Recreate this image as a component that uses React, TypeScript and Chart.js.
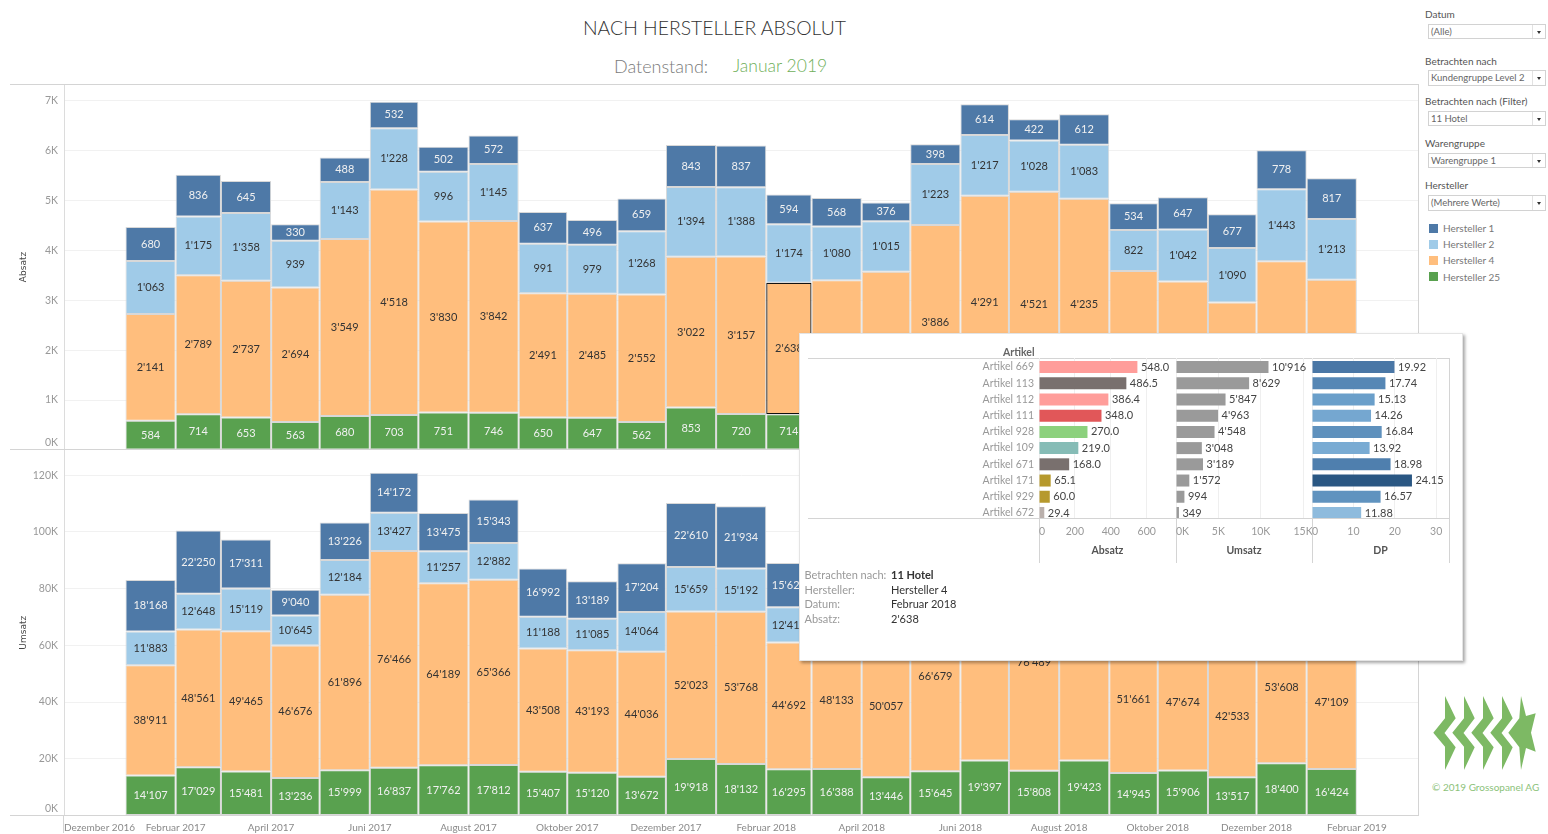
import React, { useEffect, useRef } from "react";
import { Chart, registerables, BarController } from "chart.js";

Chart.register(...registerables);

// ---------- data ----------
const monthYears = [2017,2017,2017,2017,2017,2017,2017,2017,2017,2017,2017,2017,2018,2018,2018,2018,2018,2018,2018,2018,2018,2018,2018,2018,2019];
const monthIndex = [0,1,2,3,4,5,6,7,8,9,10,11,0,1,2,3,4,5,6,7,8,9,10,11,0];

const absatzH25 = [584,714,653,563,680,703,751,746,650,647,562,853,720,714,720,590,623,806,656,798,600,640,545,740,660];
const absatzH4 = [2141,2789,2737,2694,3549,4518,3830,3842,2491,2485,2552,3022,3157,2638,2680,2980,3886,4291,4521,4235,2988,2735,2411,3045,2754];
const absatzH2 = [1063,1175,1358,939,1143,1228,996,1145,991,979,1268,1394,1388,1174,1080,1015,1223,1217,1028,1083,822,1042,1090,1443,1213];
const absatzH1 = [680,836,645,330,488,532,502,572,637,496,659,843,837,594,568,376,398,614,422,612,534,647,677,778,817];

const umsatzH25 = [14107,17029,15481,13236,15999,16837,17762,17812,15407,15120,13672,19918,18132,16295,16388,13446,15645,19397,15808,19423,14945,15906,13517,18400,16424];
const umsatzH4 = [38911,48561,49465,46676,61896,76466,64189,65366,43508,43193,44036,52023,53768,44692,48133,50057,66679,76400,76489,75400,51661,47674,42533,53608,47109];
const umsatzH2 = [11883,12648,15119,10645,12184,13427,11257,12882,11188,11085,14064,15659,15192,12414,12400,11700,14000,14000,11800,12500,9500,12000,12500,16600,14000];
const umsatzH1 = [18168,22250,17311,9040,13226,14172,13475,15343,16992,13189,17204,22610,21934,15625,14800,9800,10400,16000,11000,16000,13900,16800,17600,20200,21200];

const absatzTicks = [0,1000,2000,3000,4000,5000,6000,7000];
const umsatzTicks = [0,20000,40000,60000,80000,100000,120000];
const axisLabels = ["Dezember 2016","Februar 2017","April 2017","Juni 2017","August 2017","Oktober 2017","Dezember 2017","Februar 2018","April 2018","Juni 2018","August 2018","Oktober 2018","Dezember 2018","Februar 2019"];

const artikel = ["Artikel 669","Artikel 113","Artikel 112","Artikel 111","Artikel 928","Artikel 109","Artikel 671","Artikel 171","Artikel 929","Artikel 672"];
const artikelAbsatz = [548.0,486.5,386.4,348.0,270.0,219.0,168.0,65.1,60.0,29.4];
const artikelUmsatz = [10916,8629,5847,4963,4548,3048,3189,1572,994,349];
const artikelDP = [19.92,17.74,15.13,14.26,16.84,13.92,18.98,24.15,16.57,11.88];
const absatzColors = ["#FF9D9A","#79706E","#FF9D9A","#E15759","#8CD17D","#86BCB6","#79706E","#B6992D","#B6992D","#BAB0AC"];
const dpColors = ["#4a77a6","#5687b5","#6a9fca","#75a7d0","#5f91bd","#79abd3","#4f7fae","#2a5783","#6093bf","#8ebbdd"];

const C_H1 = "#4E79A7", C_H2 = "#A0CBE8", C_H4 = "#FFBE7D", C_H25 = "#59A14F";
const FONT = "Lato, 'Open Sans', sans-serif";

// ---------- helpers ----------
const dayOf = (y: number, m: number) => Date.UTC(y, m, 1) / 864e5 - Date.UTC(2017, 0, 1) / 864e5;
const monthStart = monthYears.map((y, i) => dayOf(y, monthIndex[i]));
const monthEnd = monthYears.map((y, i) => dayOf(y, monthIndex[i] + 1));
const monthMid = monthStart.map((s, i) => (s + monthEnd[i]) / 2);
const X_MIN = -38;
const X_MAX = 798.8;
const tickValues = [X_MIN, ...[1,3,5,7,9,11,13,15,17,19,21,23,25].map((m) => dayOf(2017, m)), X_MAX];
const fmt = (v: number) => String(Math.round(v)).replace(/\B(?=(\d{3})+$)/g, "'");

class MonthBarController extends BarController {
  static id = "monthBar";
  static defaults = BarController.defaults;
  static overrides = BarController.overrides;
  _calculateBarIndexPixels(index: number) {
    const s = (this as any)._cachedMeta.iScale;
    const a = s.getPixelForValue(monthStart[index]);
    const b = s.getPixelForValue(monthEnd[index]);
    return { base: a, head: b, center: (a + b) / 2, size: b - a };
  }
}
Chart.register(MonthBarController as any);

const barLabels = {
  id: "barLabels",
  afterDatasetsDraw(chart: any) {
    const ctx = chart.ctx;
    ctx.save();
    ctx.font = `11px ${FONT}`;
    ctx.textAlign = "center";
    ctx.textBaseline = "middle";
    chart.data.datasets.forEach((ds: any, i: number) => {
      const meta = chart.getDatasetMeta(i);
      ctx.fillStyle = ds.labelColor;
      meta.data.forEach((el: any, j: number) => {
        const c = el.getCenterPoint();
        ctx.fillText(fmt(ds.data[j].y), c.x, c.y);
      });
    });
    ctx.restore();
  },
};

const liftZero = {
  id: "liftZero",
  beforeDraw(chart: any) {
    const s = chart.scales.y;
    const items = s.getLabelItems();
    if (items.length) items[0].options.translation[1] = s.getPixelForValue(0) - 7;
  },
};

function stackedConfig(
  series: number[][],
  yMax: number,
  yTicks: number[],
  title: string,
  showX: boolean,
  xHeight: number
): any {
  const colors = [C_H25, C_H4, C_H2, C_H1];
  const labelColors = ["#f0f0f0", "#333333", "#333333", "#f0f0f0"];
  return {
    type: "monthBar",
    data: {
      datasets: series.map((vals, k) => ({
        data: vals.map((v, i) => ({ x: monthMid[i], y: v })),
        backgroundColor: colors[k],
        borderColor: (c: any) =>
          title === "Absatz" && k === 1 && c.dataIndex === 13 ? "#111111" : "#d8d8d8",
        borderWidth: (c: any) => (title === "Absatz" && k === 1 && c.dataIndex === 13 ? 1.3 : 1),
        borderSkipped: false,
        labelColor: labelColors[k],
      })),
    },
    options: {
      animation: false,
      responsive: false,
      events: [],
      layout: { autoPadding: false, padding: { right: 1 } },
      plugins: { legend: { display: false }, tooltip: { enabled: false } },
      scales: {
        x: {
          type: "linear",
          offset: false,
          min: X_MIN,
          max: X_MAX,
          display: showX,
          grid: { display: false, offset: false, drawTicks: false },
          border: { display: false },
          afterBuildTicks: (s: any) => {
            s.ticks = tickValues.map((value) => ({ value }));
          },
          afterFit: (s: any) => {
            s.height = xHeight;
            s.paddingLeft = 0;
            s.paddingRight = 0;
          },
          ticks: {
            align: "inner",
            autoSkip: false,
            maxRotation: 0,
            padding: 6,
            color: "#8a8a8a",
            font: { family: FONT, size: 10 },
            callback: (_v: any, i: number) => axisLabels[i] ?? "",
          },
        },
        y: {
          type: "linear",
          stacked: true,
          min: 0,
          max: yMax,
          grid: { color: "#f1f1f1", drawTicks: false },
          border: { display: true, color: "#dcdcdc" },
          afterBuildTicks: (s: any) => {
            s.ticks = yTicks.map((value) => ({ value }));
          },
          afterFit: (s: any) => {
            s.width = 54;
            s.paddingTop = 0;
            s.paddingBottom = 0;
          },
          title: {
            display: true,
            text: title,
            color: "#444444",
            padding: { top: 8, bottom: 0 },
            font: { family: "'DejaVu Sans', sans-serif", size: 9 },
          },
          ticks: {
            padding: 6,
            color: "#999999",
            font: { family: FONT, size: 10.5 },
            callback: (v: number) => `${v / 1000}K`,
          },
        },
      },
    },
    plugins: [barLabels, liftZero],
  };
}

const panelValueLabels = (format: (v: number) => string) => ({
  id: "panelValueLabels",
  afterDatasetsDraw(chart: any) {
    const ctx = chart.ctx;
    ctx.save();
    ctx.font = `11px ${FONT}`;
    ctx.textAlign = "left";
    ctx.textBaseline = "middle";
    ctx.fillStyle = "#444444";
    const ds = chart.data.datasets[0];
    chart.getDatasetMeta(0).data.forEach((el: any, j: number) => {
      ctx.fillText(format(ds.data[j].x), el.x + 3.5, el.y);
    });
    ctx.restore();
  },
});

function panelConfig(
  values: number[],
  colors: string | string[],
  xMax: number,
  ticks: number[],
  tickText: (v: number) => string,
  title: string,
  yWidth: number,
  format: (v: number) => string
): any {
  const tv = [...ticks, xMax];
  return {
    type: "bar",
    data: {
      datasets: [
        {
          data: values.map((v, i) => ({ x: v, y: i })),
          backgroundColor: colors,
          borderWidth: 0,
          categoryPercentage: 0.86,
          barPercentage: 0.86,
        },
      ],
    },
    options: {
      indexAxis: "y",
      animation: false,
      responsive: false,
      events: [],
      layout: { autoPadding: false, padding: 0 },
      plugins: { legend: { display: false }, tooltip: { enabled: false } },
      scales: {
        x: {
          type: "linear",
          min: 0,
          max: xMax,
          grid: { color: "#efefef", drawTicks: false },
          border: { display: false },
          afterBuildTicks: (s: any) => {
            s.ticks = tv.map((value) => ({ value }));
          },
          afterFit: (s: any) => {
            s.height = 45;
            s.paddingLeft = 0;
            s.paddingRight = 0;
          },
          title: {
            display: true,
            text: title,
            color: "#555555",
            padding: { top: 0, bottom: 6 },
            font: { family: FONT, size: 10.5, weight: "bold" },
          },
          ticks: {
            align: "inner",
            autoSkip: false,
            maxRotation: 0,
            padding: 7,
            color: "#999999",
            font: { family: FONT, size: 10.5 },
            callback: (v: number, i: number) => (i === tv.length - 1 ? "" : tickText(v)),
          },
        },
        y: {
          type: "linear",
          reverse: true,
          offset: false,
          min: -0.556,
          max: 9.31,
          display: yWidth > 0,
          grid: { display: false, drawTicks: false, offset: false },
          border: { display: false },
          afterBuildTicks: (s: any) => {
            s.ticks = artikel.map((_, i) => ({ value: i }));
          },
          afterFit: (s: any) => {
            s.width = yWidth;
            s.paddingTop = 0;
            s.paddingBottom = 0;
          },
          ticks: {
            autoSkip: false,
            padding: 5,
            color: "#999999",
            font: { family: FONT, size: 10.5 },
            callback: (v: number) => artikel[v],
          },
        },
      },
    },
    plugins: [panelValueLabels(format)],
  };
}

// ---------- small components ----------
function ChartCanvas({ config, left, top, width, height, z }: any) {
  const ref = useRef<HTMLCanvasElement>(null);
  useEffect(() => {
    const chart = new Chart(ref.current as HTMLCanvasElement, config());
    return () => chart.destroy();
  }, []);
  return (
    <canvas
      ref={ref}
      width={width}
      height={height}
      style={{ position: "absolute", left, top, width, height, zIndex: z ?? 1 }}
    />
  );
}

const abs = (left: number, top: number, extra: any = {}) => ({ position: "absolute", left, top, ...extra } as any);

function Text({ x, y, size = 10, color = "#555", weight = 400, children, style }: any) {
  return (
    <div
      style={abs(x, y, {
        fontFamily: FONT,
        fontSize: size,
        color,
        fontWeight: weight,
        whiteSpace: "nowrap",
        lineHeight: "1",
        transform: "translateY(-50%)",
        ...style,
      })}
    >
      {children}
    </div>
  );
}

function Line({ x, y, w, h, color = "#d4d4d4", z = 2 }: any) {
  return <div style={abs(x, y, { width: w, height: h, background: color, zIndex: z })} />;
}

const filters = [
  { label: "Datum", value: "(Alle)", ly: 13.5, by: 24, bh: 15 },
  { label: "Betrachten nach", value: "Kundengruppe Level 2", ly: 60.5, by: 70, bh: 16 },
  { label: "Betrachten nach (Filter)", value: "11 Hotel", ly: 100.5, by: 111, bh: 15 },
  { label: "Warengruppe", value: "Warengruppe 1", ly: 142.5, by: 153, bh: 15 },
  { label: "Hersteller", value: "(Mehrere Werte)", ly: 184.5, by: 195, bh: 16 },
];
const legendItems = [
  { name: "Hersteller 1", color: C_H1, y: 228 },
  { name: "Hersteller 2", color: C_H2, y: 244 },
  { name: "Hersteller 4", color: C_H4, y: 260 },
  { name: "Hersteller 25", color: C_H25, y: 276.5 },
];

function Filter({ f }: any) {
  return (
    <>
      <Text x={1425} y={f.ly} size={10} color="#555">{f.label}</Text>
      <div style={abs(1427.5, f.by, { width: 118, height: f.bh, boxSizing: "border-box", border: "1px solid #d2d2d2", background: "#fff" })}>
        <div style={abs(2.5, 0, { fontFamily: FONT, fontSize: 9.5, color: "#666", lineHeight: `${f.bh - 2}px`, whiteSpace: "nowrap" })}>{f.value}</div>
        <div style={abs(103, 0, { width: 1, height: f.bh - 2, background: "#e2e2e2" })} />
        <div style={abs(108.5, (f.bh - 2) / 2 - 1, { width: 0, height: 0, borderLeft: "2.5px solid transparent", borderRight: "2.5px solid transparent", borderTop: "3px solid #333" })} />
      </div>
    </>
  );
}

function Logo() {
  const pitch = 19;
  const arrows = [0, 1, 2, 3];
  const shape = (d: number) =>
    `${1445 + d},696 ${1455.7 + d},718.3 ${1444.5 + d},733 ${1455.7 + d},747.3 ${1445 + d},770 ${1445 + d},746.7 ${1433.3 + d},732.7 ${1445 + d},718.3`;
  return (
    <svg style={abs(0, 0, { pointerEvents: "none" })} width={1548} height={834}>
      {arrows.map((i) => (
        <polygon key={i} points={shape(i * pitch)} fill="#7DB964" />
      ))}
      <polygon
        points="1521,696 1526,716 1535.7,713.3 1531,732.7 1535.7,751.7 1526,748 1521,770 1519.3,747.3 1508.3,732.7 1519.3,718.3"
        fill="#7DB964"
      />
    </svg>
  );
}

export default function App() {
  return (
    <div style={abs(0, 0, { width: 1548, height: 834, overflow: "hidden", background: "#fff", fontFamily: FONT })}>
      <Text x={714.5} y={28} size={19.4} color="#333" style={{ transform: "translate(-50%,-50%)", fontWeight: 300 }}>
        NACH HERSTELLER ABSOLUT
      </Text>
      <Text x={614} y={66} size={18} color="#7a7a7a" weight={300}>Datenstand:</Text>
      <Text x={733} y={66} size={17.5} color="#6FAF5A" weight={300}>Januar 2019</Text>

      <ChartCanvas
        left={10}
        top={84}
        width={1409}
        height={366}
        config={() => stackedConfig([absatzH25, absatzH4, absatzH2, absatzH1], 7335, absatzTicks, "Absatz", false, 0)}
      />
      <ChartCanvas
        left={10}
        top={450}
        width={1409}
        height={384}
        config={() => stackedConfig([umsatzH25, umsatzH4, umsatzH2, umsatzH1], 128900, umsatzTicks, "Umsatz", true, 18.5)}
      />
      <Line x={10} y={84} w={1408} h={1} />
      <Line x={10} y={449} w={1408} h={1} />
      <Line x={10} y={815} w={1408} h={1} />
      <Line x={1418} y={84} w={1} h={732} />
      <Line x={63} y={815} w={1} h={18} />

      {filters.map((f) => <Filter key={f.label} f={f} />)}
      {legendItems.map((l) => (
        <React.Fragment key={l.name}>
          <div style={abs(1429, l.y - 4.5, { width: 9, height: 9, background: l.color })} />
          <Text x={1443} y={l.y} size={10} color="#777">{l.name}</Text>
        </React.Fragment>
      ))}
      <Logo />
      <Text x={1432} y={787} size={10} color="#8CC27A">© 2019 Grossopanel AG</Text>

      {/* tooltip */}
      <div style={abs(799, 333, { width: 664, height: 328, background: "#fff", zIndex: 5, boxShadow: "2px 2px 3px rgba(0,0,0,0.35)", border: "1px solid #e4e4e4", boxSizing: "border-box" })} />
      <div style={abs(0, 0, { zIndex: 6, width: 0, height: 0 })}>
        <Text x={1003} y={352} size={10.5} color="#666" weight={700}>Artikel</Text>
        <Line x={807.5} y={358} w={642} h={1} z={1} />
        <Line x={807.5} y={518} w={642} h={1} z={1} />
        {[1039, 1175.5, 1312, 1449].map((x) => <Line key={x} x={x} y={358} w={1} h={205} z={1} />)}
        <ChartCanvas
          left={807}
          top={358}
          width={369}
          height={205}
          z={6}
          config={() => panelConfig(artikelAbsatz, absatzColors, 763, [0, 200, 400, 600], (v) => `${v}`, "Absatz", 232, (v) => v.toFixed(1))}
        />
        <ChartCanvas
          left={1176}
          top={358}
          width={136}
          height={205}
          z={6}
          config={() => panelConfig(artikelUmsatz, "#9A9A9A", 16050, [0, 5000, 10000, 15000], (v) => `${v / 1000}K`, "Umsatz", 0, fmt)}
        />
        <ChartCanvas
          left={1312}
          top={358}
          width={137}
          height={205}
          z={6}
          config={() => panelConfig(artikelDP, dpColors, 33.1, [0, 10, 20, 30], (v) => `${v}`, "DP", 0, (v) => v.toFixed(2))}
        />
        <div style={{ position: "relative", zIndex: 8 }}>
          {[
            ["Betrachten nach:", "11 Hotel", 573.5, 700],
            ["Hersteller:", "Hersteller 4", 588.5, 400],
            ["Datum:", "Februar 2018", 603, 400],
            ["Absatz:", "2'638", 617.5, 400],
          ].map(([k, v, y, w]: any) => (
            <React.Fragment key={k}>
              <Text x={804.5} y={y} size={11} color="#999">{k}</Text>
              <Text x={891} y={y} size={11} color="#333" weight={w}>{v}</Text>
            </React.Fragment>
          ))}
        </div>
      </div>
    </div>
  );
}
